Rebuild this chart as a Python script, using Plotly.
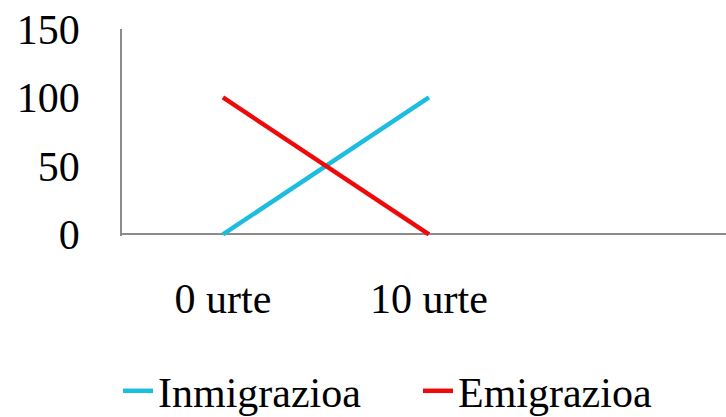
import plotly.graph_objects as go

categories = ["0 urte", "10 urte"]
inmigrazioa = [0, 100]
emigrazioa = [100, 0]
y_ticks = [0, 50, 100, 150]

FONT = "Liberation Serif"
x_pos = list(range(len(categories)))

fig = go.Figure()
fig.add_trace(go.Scatter(x=x_pos, y=inmigrazioa, mode="lines", name="Inmigrazioa",
                         line=dict(color="#1DBDE0", width=4.5)))
fig.add_trace(go.Scatter(x=x_pos, y=emigrazioa, mode="lines", name="Emigrazioa",
                         line=dict(color="#EE0A0A", width=4.5)))

fig.update_layout(
    width=726, height=417,
    margin=dict(l=122, r=0, t=29, b=417 - 236),
    paper_bgcolor="white", plot_bgcolor="white",
    font=dict(family=FONT, size=42, color="black"),
    showlegend=True,
    legend=dict(orientation="h", xref="container", yref="container",
                x=118 / 726, y=1 - 357 / 417, xanchor="left", yanchor="top",
                font=dict(family=FONT, size=42), entrywidth=255, entrywidthmode="pixels",
                bgcolor="rgba(0,0,0,0)"),
)
fig.update_xaxes(range=[-0.49, 2.442], tickvals=x_pos, ticktext=categories,
                 showgrid=False, showline=False, zeroline=False, ticks="",
                 ticklabelstandoff=34, tickfont=dict(family=FONT, size=42))
fig.update_yaxes(range=[-1.2, 150], tickvals=y_ticks, showgrid=False,
                 showline=True, linecolor="#8C8C8C", linewidth=1.5,
                 zeroline=True, zerolinecolor="#8C8C8C", zerolinewidth=1.5,
                 ticks="", ticklabelstandoff=32, tickfont=dict(family=FONT, size=42))

fig.write_html("out.html", config={"displayModeBar": False},
               post_script="document.body.style.margin='0';document.body.style.overflow='hidden';")
